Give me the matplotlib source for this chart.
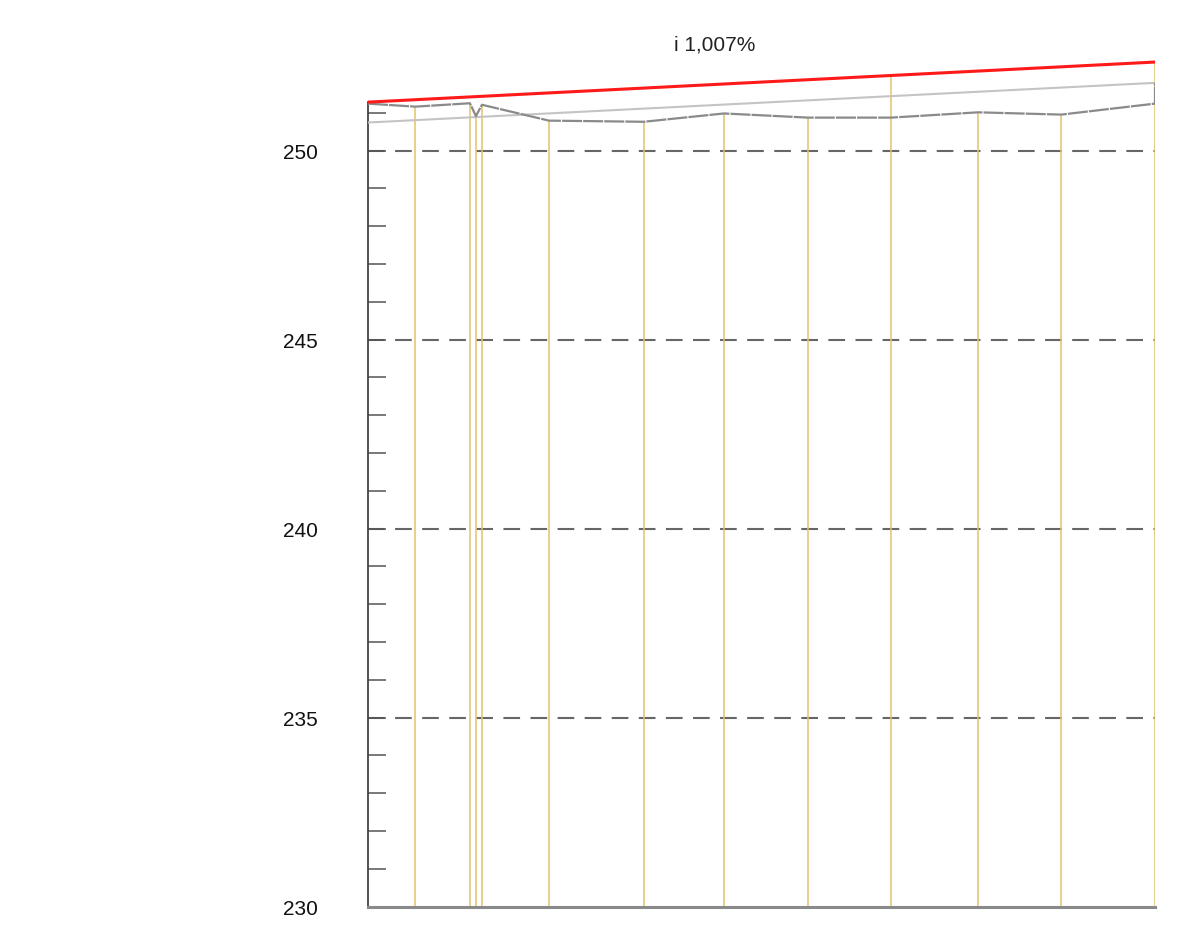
import matplotlib
matplotlib.use("Agg")
import matplotlib.pyplot as plt

# Data (distance in m, elevation in m)
grade_x = [0.0, 105.0]
grade_y = [251.28, 252.34]          # design grade line (red)
offset_x = [0.0, 105.0]
offset_y = [250.74, 251.79]         # parallel light gray line
terrain_x = [0.0, 6.3, 13.6, 14.4, 15.2, 24.15, 36.8, 47.5, 58.7, 69.8, 81.4, 92.5, 105.0, 105.0]
terrain_y = [251.24, 251.16, 251.25, 250.91, 251.21, 250.79, 250.76, 250.98, 250.87, 250.87, 251.01, 250.95, 251.24, 251.79]
station_x = [6.3, 13.6, 14.4, 15.2, 24.15, 36.8, 47.5, 58.7, 69.8, 81.4, 92.5, 105.0]
station_top = [251.16, 251.25, 250.91, 251.21, 250.79, 250.76, 250.98, 250.87, 251.98, 251.01, 250.95, 252.34]
grid_levels = [235, 240, 245, 250]
major_ticks = [230, 235, 240, 245, 250]
minor_ticks = list(range(231, 252))
slope_label = "i 1,007%"

W, H = 1177, 945
fig = plt.figure(figsize=(W / 100, H / 100), dpi=100)
y_lo, y_hi = 230, 252.5
px_per_unit = 37.8
top_px = 151.5 - (y_hi - 250) * px_per_unit
ax = fig.add_axes([368 / W, 1 - 907.5 / H, (1155 - 368) / W, (907.5 - top_px) / H])
ax.set_xlim(0, 105)
ax.set_ylim(y_lo, y_hi)

for lv in grid_levels:
    ax.hlines(lv, 0, 105, colors="#666666", linewidth=1.5, linestyles=(0, (8, 5)), zorder=1)

ax.vlines(station_x, y_lo, station_top, colors="#e2c36a", linewidth=1.1, zorder=2)

ax.plot(offset_x, offset_y, color="#c4c4c4", linewidth=1.5, zorder=3)
ax.plot(terrain_x, terrain_y, color="#8a8a8a", linewidth=1.6, zorder=4,
        linestyle=(0, (9, 0.5)))
ax.plot(grade_x, grade_y, color="#ff1a1a", linewidth=2.2, zorder=5)

ax.text(46.2, 252.83, slope_label, ha="center", va="center", fontsize=15,
        color="#222222", clip_on=False, family="Liberation Sans")

for s in ["top", "right"]:
    ax.spines[s].set_visible(False)
ax.spines["left"].set_bounds(y_lo, grade_y[0])
ax.spines["left"].set_color("#444444")
ax.spines["left"].set_linewidth(1.3)
ax.spines["bottom"].set_color("#8a8a8a")
ax.spines["bottom"].set_linewidth(2.2)

ax.set_xticks([])
ax.set_yticks(major_ticks)
ax.set_yticks(minor_ticks, minor=True)
ax.set_yticklabels([str(t) for t in major_ticks], fontsize=15, family="Liberation Sans", color="#111111")
ax.tick_params(axis="y", which="both", direction="in", length=13, width=1.1, color="#555555", pad=36)
ax.tick_params(axis="y", which="minor", labelleft=False)

fig.savefig("out.png", dpi=100)
